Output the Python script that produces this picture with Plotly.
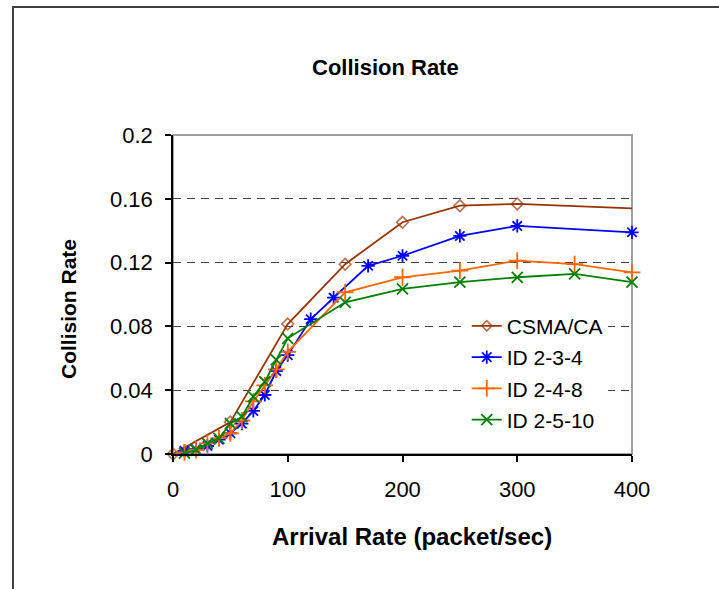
import plotly.graph_objects as go

# Arrival rate (packet/sec) and collision rate for each scheme
csma_x = [0, 50, 100, 150, 200, 250, 300, 400]
csma_y = [0, 0.020, 0.0815, 0.119, 0.1453, 0.1557, 0.1568, 0.154]

id234_x = [10, 20, 30, 40, 50, 60, 70, 80, 90, 100, 120, 140, 170, 200, 250, 300, 400]
id234_y = [0.002, 0.003, 0.005, 0.009, 0.013, 0.019, 0.027, 0.037, 0.052, 0.062,
           0.0845, 0.098, 0.118, 0.1243, 0.1367, 0.143, 0.139]

id248_x = [10, 20, 30, 40, 50, 60, 70, 80, 90, 100, 150, 200, 250, 300, 350, 400]
id248_y = [0.001, 0.0025, 0.0067, 0.010, 0.013, 0.021, 0.033, 0.043, 0.053, 0.064,
           0.1014, 0.1108, 0.115, 0.1212, 0.119, 0.1139]

id2510_x = [10, 20, 30, 40, 50, 60, 70, 80, 90, 100, 150, 200, 250, 300, 350, 400]
id2510_y = [0.0005, 0.0025, 0.0067, 0.0098, 0.019, 0.0234, 0.036, 0.0453, 0.059, 0.0725,
            0.0951, 0.1035, 0.1077, 0.1108, 0.1129, 0.1077]

series_names = ["CSMA/CA", "ID 2-3-4", "ID 2-4-8", "ID 2-5-10"]

x_ticks = [0, 100, 200, 300, 400]
y_ticks = [0, 0.04, 0.08, 0.12, 0.16, 0.2]
y_tick_text = ["0", "0.04", "0.08", "0.12", "0.16", "0.2"]

FONT = "Liberation Sans, Arial, sans-serif"

fig = go.Figure()

# CSMA/CA: the final point has no visible marker
csma_sizes = [9] * (len(csma_x) - 1) + [0]
fig.add_trace(go.Scatter(
    x=csma_x, y=csma_y, name=series_names[0], mode="lines+markers",
    line=dict(color="#993300", width=1.8),
    marker=dict(symbol="diamond-open", size=csma_sizes, color="#993300",
                line=dict(width=1.6, color="#993300")),
    legendgroup="a", cliponaxis=False,
))
fig.add_trace(go.Scatter(
    x=id234_x, y=id234_y, name=series_names[1], mode="lines+markers",
    line=dict(color="#0000FF", width=1.8),
    marker=dict(symbol="asterisk-open", size=11, color="#0000FF",
                line=dict(width=1.8, color="#0000FF")),
    legendgroup="b", cliponaxis=False,
))
fig.add_trace(go.Scatter(
    x=id248_x, y=id248_y, name=series_names[2], mode="lines+markers",
    line=dict(color="#FF6600", width=1.8),
    marker=dict(symbol="cross-thin-open", size=12, color="#FF6600",
                line=dict(width=1.8, color="#FF6600")),
    legendgroup="c", cliponaxis=False,
))
fig.add_trace(go.Scatter(
    x=id2510_x, y=id2510_y, name=series_names[3], mode="lines+markers",
    line=dict(color="#008000", width=1.8),
    marker=dict(symbol="x-thin-open", size=11, color="#008000",
                line=dict(width=1.8, color="#008000")),
    legendgroup="d", cliponaxis=False,
))

shapes = [
    # plot-area frame (grey), left/bottom axis lines are drawn over it in black
    dict(type="rect", xref="paper", yref="paper", x0=0, x1=1, y0=0, y1=1,
         line=dict(color="#A0A0A0", width=2), layer="between"),
    # outer chart border
    dict(type="rect", xref="paper", yref="paper", x0=-0.3486, x1=1.4, y0=-0.6, y1=1.4013,
         line=dict(color="#404040", width=2), layer="below"),
]

fig.update_layout(
    width=719, height=589,
    margin=dict(l=173, r=87, t=135, b=135),
    paper_bgcolor="white", plot_bgcolor="white",
    font=dict(family=FONT, size=21, color="black"),
    showlegend=True,
    legend=dict(x=0.64, y=0.465, xanchor="left", yanchor="top",
                bgcolor="white", borderwidth=0, tracegroupgap=1,
                traceorder="grouped", font=dict(size=21, family=FONT)),
    shapes=shapes,
    annotations=[
        dict(text="<b>Collision Rate</b>", xref="paper", yref="paper",
             x=(385 - 173) / 459, y=(454 - 68) / 319, showarrow=False,
             xanchor="center", yanchor="middle", font=dict(size=22, family=FONT)),
        dict(text="<b>Arrival Rate (packet/sec)</b>", xref="paper", yref="paper",
             x=(412 - 173) / 459, y=(454 - 536) / 319, showarrow=False,
             xanchor="center", yanchor="middle", font=dict(size=24, family=FONT)),
        dict(text="<b>Collision Rate</b>", xref="paper", yref="paper",
             x=(68 - 173) / 459, y=(454 - 309) / 319, showarrow=False, textangle=-90,
             xanchor="center", yanchor="middle", font=dict(size=21, family=FONT)),
    ],
)

fig.update_xaxes(
    range=[0, 400], tickvals=x_ticks, showgrid=False, zeroline=False,
    showline=True, linecolor="black", linewidth=1.5,
    ticks="outside", ticklen=6, tickcolor="black", tickwidth=1.5,
    ticklabelstandoff=9, tickfont=dict(size=22, family=FONT),
)
fig.update_yaxes(
    range=[0, 0.2], tickvals=y_ticks, ticktext=y_tick_text,
    showgrid=True, gridcolor="#404040", gridwidth=1.2, griddash="8px,6px",
    zeroline=False, showline=True, linecolor="black", linewidth=1.5,
    ticks="outside", ticklen=6, tickcolor="black", tickwidth=1.5,
    ticklabelstandoff=8, tickfont=dict(size=22, family=FONT),
)

fig.write_html("out.html")
